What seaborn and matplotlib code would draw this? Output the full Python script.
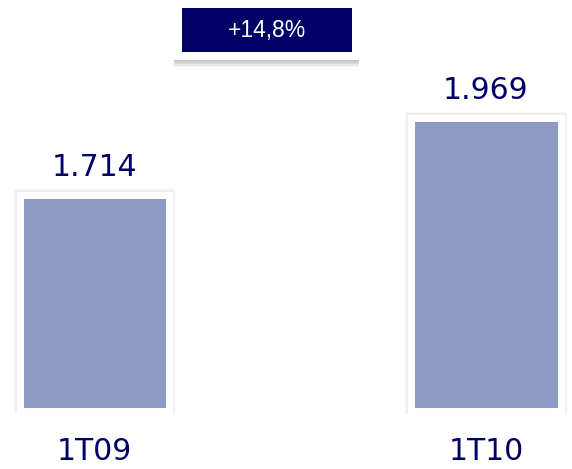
import matplotlib
matplotlib.use('Agg')
import matplotlib.pyplot as plt
import matplotlib.patheffects as pe
from matplotlib.patches import Rectangle
import seaborn as sns
import pandas as pd

# data
periods = ['1T09', '1T10']
values = [1714, 1969]
value_labels = ['1.714', '1.969']
growth_label = '+14,8%'

BASE = 1000
NAVY = '#000066'
BAR = '#8F9BC4'

sns.set_theme(style='white')
plt.rcParams['font.family'] = ['DejaVu Sans']

fig = plt.figure(figsize=(5.72, 4.69), dpi=100)
ax = fig.add_axes([0, 56 / 469, 1, 413 / 469])

df = pd.DataFrame({'period': periods, 'value': values})
sns.barplot(data=df, x='period', y='value', color=BAR, saturation=1,
            width=0.383, edgecolor='white', linewidth=5, ax=ax)

# bars start at the axis base, with a soft shadow round the white frame
for p, v in zip(ax.patches, values):
    p.set_y(BASE)
    p.set_height(v - BASE)
    p.set_path_effects([
        pe.Stroke(linewidth=9, foreground='black', alpha=0.025),
        pe.Stroke(linewidth=7.5, foreground='black', alpha=0.04),
        pe.Normal(),
    ])

for i, (v, lbl) in enumerate(zip(values, value_labels)):
    ax.annotate(lbl, (i, v), xytext=(0, 13.5), textcoords='offset points',
                ha='center', va='baseline', fontsize=21.5, color=NAVY)

ax.set_xlim(-0.2414, 1.2197)
ax.set_ylim(993.4, 2359)
ax.set_xlabel('')
ax.set_ylabel('')
ax.set_yticks([])
ax.tick_params(axis='x', length=0, pad=17, labelsize=21.5, labelcolor=NAVY)
sns.despine(ax=ax, left=True, bottom=True)

# growth box with a soft drop shadow
shadow_fx = [pe.SimplePatchShadow(offset=(0, -d), shadow_rgbFace='black', alpha=a)
             for d, a in [(5, 0.04), (4, 0.05), (3, 0.06), (2, 0.06), (1, 0.05)]]
frame = Rectangle((174 / 572, (469 - 60) / 469), 185 / 572, 59 / 469,
                  transform=fig.transFigure, facecolor='white', edgecolor='none',
                  path_effects=shadow_fx + [pe.Normal()])
fig.add_artist(frame)
fig.add_artist(Rectangle((182 / 572, (469 - 52) / 469), 170 / 572, 44 / 469,
                         transform=fig.transFigure, facecolor=NAVY, edgecolor='none'))
fig.text(267 / 572, (469 - 31) / 469, growth_label, color='white', fontsize=16.5,
         family=['Liberation Sans', 'DejaVu Sans'], ha='center', va='center')

fig.savefig('out.png', dpi=100)
